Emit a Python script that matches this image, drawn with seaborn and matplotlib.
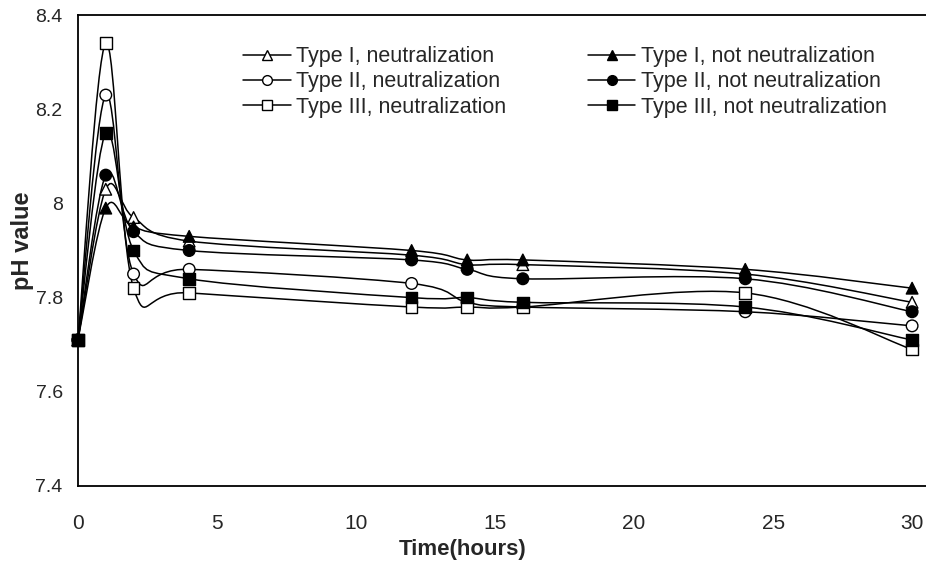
#!/usr/bin/env python3

import pandas as pd
import seaborn as sns
import matplotlib
matplotlib.use("Agg")
import matplotlib.pyplot as plt
from matplotlib.path import Path
from matplotlib.patches import PathPatch
from matplotlib.lines import Line2D

# Sampling times (hours)
time_h = [0, 1, 2, 4, 12, 14, 16, 24, 30]

# pH values
type1_neut = [7.71, 8.03, 7.97, 7.92, 7.89, 7.87, 7.87, 7.85, 7.79]
type2_neut = [7.71, 8.23, 7.85, 7.86, 7.83, 7.79, 7.78, 7.77, 7.74]
type3_neut = [7.71, 8.34, 7.82, 7.81, 7.78, 7.78, 7.78, 7.81, 7.69]
type1_not = [7.71, 7.99, 7.95, 7.93, 7.90, 7.88, 7.88, 7.86, 7.82]
type2_not = [7.71, 8.06, 7.94, 7.90, 7.88, 7.86, 7.84, 7.84, 7.77]
type3_not = [7.71, 8.15, 7.90, 7.84, 7.80, 7.80, 7.79, 7.78, 7.71]

series_names = ["Type I, neutralization", "Type II, neutralization",
                "Type III, neutralization", "Type I, not neutralization",
                "Type II, not neutralization", "Type III, not neutralization"]
series_values = [type1_neut, type2_neut, type3_neut,
                 type1_not, type2_not, type3_not]
series_markers = ["^", "o", "s", "^", "o", "s"]
series_faces = ["white", "white", "white", "black", "black", "black"]


def smooth_path(xs, ys):
    # Bezier segments through the points, like a spreadsheet "smoothed line"
    verts = [(xs[0], ys[0])]
    codes = [Path.MOVETO]
    n = len(xs)
    for i in range(n - 1):
        x0, y0 = (xs[i - 1], ys[i - 1]) if i > 0 else (xs[i], ys[i])
        x1, y1 = xs[i], ys[i]
        x2, y2 = xs[i + 1], ys[i + 1]
        x3, y3 = (xs[i + 2], ys[i + 2]) if i + 2 < n else (x2, y2)
        c1 = (x1 + (x2 - x0) / 6.0, y1 + (y2 - y0) / 6.0)
        c2 = (x2 - (x3 - x1) / 6.0, y2 - (y3 - y1) / 6.0)
        verts += [c1, c2, (x2, y2)]
        codes += [Path.CURVE4, Path.CURVE4, Path.CURVE4]
    return Path(verts, codes)


sns.set_style("ticks")
plt.rcParams['font.family'] = ['Liberation Sans', 'DejaVu Sans']

rows = []
for name, vals in zip(series_names, series_values):
    for t, v in zip(time_h, vals):
        rows.append({"time": t, "ph": v, "series": name})
df = pd.DataFrame(rows)

fig = plt.figure(figsize=(9.26, 5.64), dpi=100)
ax = fig.add_axes([0.0842, 0.1383, 0.9158, 0.8351])

# smoothed connecting lines
for name in series_names:
    sub = df[df["series"] == name]
    patch = PathPatch(smooth_path(list(sub["time"]), list(sub["ph"])),
                      facecolor="none", edgecolor="black", lw=1.1, zorder=2)
    ax.add_patch(patch)

# markers
sns.scatterplot(data=df, x="time", y="ph", hue="series", style="series",
                hue_order=series_names, style_order=series_names,
                palette=dict(zip(series_names, series_faces)),
                markers=dict(zip(series_names, series_markers)),
                s=70, edgecolor="black", linewidth=1.0, legend=False,
                zorder=3, clip_on=False, ax=ax)

ax.set_xlim(0, 30.5)
ax.set_ylim(7.4, 8.4)
ax.set_xticks([0, 5, 10, 15, 20, 25, 30])
ax.set_yticks([7.4, 7.6, 7.8, 8.0, 8.2, 8.4])
ax.set_yticklabels(["7.4", "7.6", "7.8", "8", "8.2", "8.4"])
ax.tick_params(axis="y", length=0, labelsize=14, pad=11)
ax.tick_params(axis="x", length=0, labelsize=15, pad=20)
for side in ["left", "bottom", "top"]:
    ax.spines[side].set_linewidth(1.3)
    ax.spines[side].set_color("black")
ax.spines["right"].set_visible(False)

ax.set_xlabel("Time(hours)", fontsize=16, fontweight="bold")
ax.xaxis.set_label_coords(0.453, -0.112)
ax.set_ylabel("pH value", fontsize=17, fontweight="bold")
ax.yaxis.set_label_coords(-0.052, 0.52)

handles = [Line2D([], [], color="black", lw=1.1, marker=m, markersize=7,
                  markerfacecolor=f, markeredgecolor="black")
           for m, f in zip(series_markers, series_faces)]
ax.legend(handles, series_names, ncol=2, frameon=False, fontsize=15.5,
          loc="upper left", bbox_to_anchor=(0.172, 0.975),
          handlelength=2.2, handletextpad=0.25, columnspacing=3.8,
          labelspacing=0.2)

plt.savefig("out.png", dpi=100)
